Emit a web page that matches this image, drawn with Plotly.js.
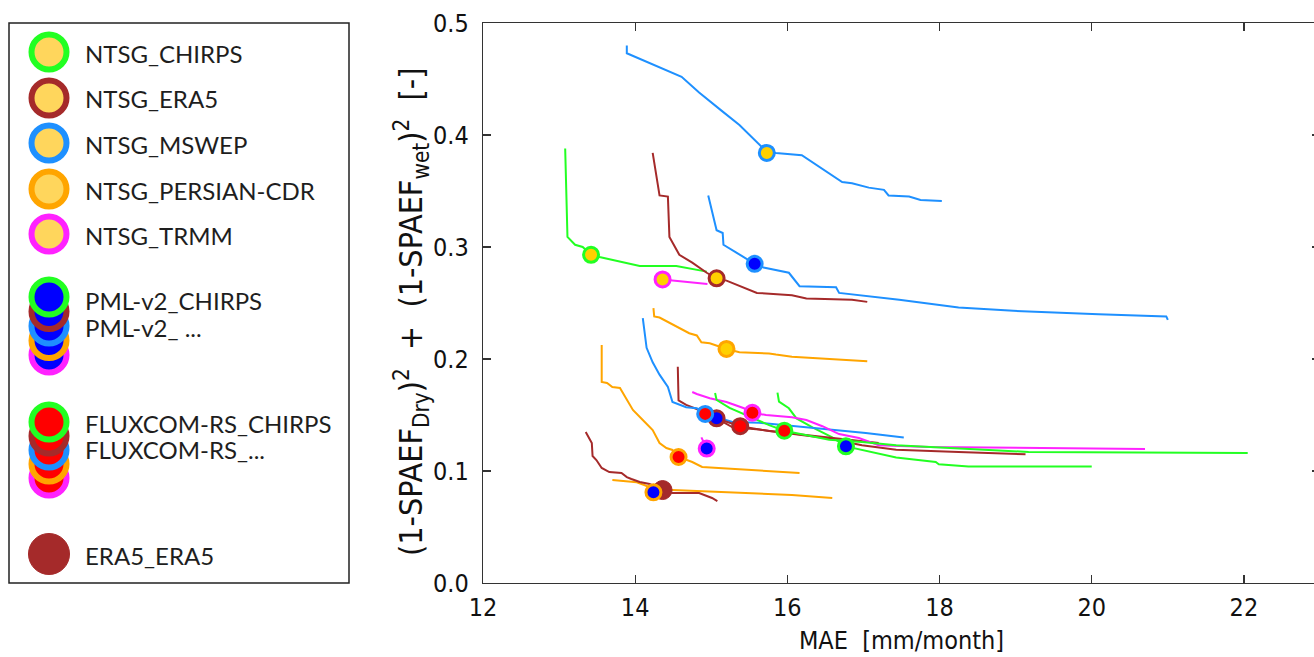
<!DOCTYPE html>
<html>
<head>
<meta charset="utf-8">
<script src="https://cdn.plot.ly/plotly-3.0.1.min.js"></script>
<style>
html,body{margin:0;padding:0;background:#fff;overflow:hidden;}
#chart{width:1320px;height:657px;}
</style>
</head>
<body>
<div id="chart"></div>
<script>
// ---------------- DATA ----------------
// Pareto-front lines: MAE [mm/month] (x) vs (1-SPAEF_Dry)^2 + (1-SPAEF_wet)^2 (y)
const ntsgMswepX = [13.89, 13.89, 14.61, 14.84, 15.13, 15.37, 15.73, 15.85, 16.19, 16.72, 16.85, 17.07, 17.27, 17.33, 17.60, 17.75, 18.03];
const ntsgMswepY = [0.480, 0.473, 0.452, 0.438, 0.422, 0.409, 0.385, 0.384, 0.382, 0.358, 0.357, 0.353, 0.351, 0.346, 0.345, 0.342, 0.341];

const ntsgChirpsX = [13.08, 13.11, 13.21, 13.31, 13.42, 13.53, 14.06, 14.54, 14.94];
const ntsgChirpsY = [0.388, 0.309, 0.302, 0.300, 0.293, 0.291, 0.283, 0.283, 0.278];

const ntsgEra5X = [14.23, 14.32, 14.43, 14.45, 14.58, 14.75, 14.94, 15.07, 15.20, 15.60, 16.06, 16.25, 16.85, 17.05];
const ntsgEra5Y = [0.384, 0.346, 0.345, 0.309, 0.293, 0.286, 0.277, 0.272, 0.270, 0.259, 0.257, 0.254, 0.253, 0.251];

const ntsgTrmmX = [14.36, 14.95];
const ntsgTrmmY = [0.271, 0.267];

const ntsgPersianX = [14.24, 14.25, 14.32, 14.52, 14.62, 14.71, 14.81, 14.87, 14.98, 15.20, 15.37, 15.76, 15.85, 16.06, 17.05];
const ntsgPersianY = [0.2455, 0.238, 0.237, 0.230, 0.226, 0.223, 0.221, 0.215, 0.214, 0.209, 0.206, 0.205, 0.204, 0.202, 0.198];

const pmlMswepX = [14.96, 15.01, 15.07, 15.15, 15.16, 15.33, 15.57, 15.67, 16.02, 16.16, 16.64, 16.68, 17.47, 18.25, 18.97, 20.09, 20.98, 21.00];
const pmlMswepY = [0.346, 0.333, 0.315, 0.3125, 0.302, 0.295, 0.285, 0.282, 0.277, 0.265, 0.264, 0.259, 0.253, 0.246, 0.243, 0.240, 0.238, 0.235];

const pmlEra5X = [14.56, 14.57, 14.67, 14.84, 15.07, 15.28, 15.63, 15.98, 16.55, 16.98, 17.43, 18.25, 19.13];
const pmlEra5Y = [0.193, 0.163, 0.159, 0.1545, 0.147, 0.139, 0.137, 0.134, 0.129, 0.123, 0.119, 0.117, 0.115];

const pmlChirpsX = [15.87, 15.89, 16.02, 16.12, 16.33, 16.59, 16.77, 16.98, 17.43, 17.69, 17.95, 17.99, 18.38, 20.00];
const pmlChirpsY = [0.170, 0.162, 0.156, 0.147, 0.139, 0.130, 0.122, 0.119, 0.112, 0.110, 0.108, 0.106, 0.104, 0.104];

const pmlTrmmX = [14.87, 14.94];
const pmlTrmmY = [0.130, 0.120];

const pmlPersianX = [13.70, 14.02, 14.12, 14.24, 14.49, 15.20, 16.06, 16.59];
const pmlPersianY = [0.092, 0.090, 0.0875, 0.084, 0.083, 0.081, 0.0786, 0.076];

const fluxMswepX = [14.10, 14.12, 14.15, 14.23, 14.32, 14.43, 14.45, 14.49, 14.67, 14.81, 14.92, 15.28, 15.63, 16.55, 17.03, 17.53];
const fluxMswepY = [0.2366, 0.226, 0.210, 0.197, 0.186, 0.175, 0.1705, 0.1616, 0.157, 0.156, 0.151, 0.1437, 0.143, 0.137, 0.134, 0.130];

const fluxEra5X = [15.13, 15.38, 15.76, 16.42, 17.20];
const fluxEra5Y = [0.1455, 0.140, 0.1357, 0.131, 0.125];

const fluxTrmmX = [14.75, 14.81, 14.98, 15.20, 15.43, 15.54, 15.72, 16.06, 16.25, 16.46, 16.68, 16.94, 17.20, 17.86, 20.70];
const fluxTrmmY = [0.1705, 0.1688, 0.165, 0.1616, 0.156, 0.152, 0.150, 0.148, 0.1455, 0.140, 0.133, 0.1295, 0.123, 0.1214, 0.1196];

const fluxChirpsX = [15.05, 15.07, 15.24, 15.46, 15.76, 15.96, 16.55, 16.98, 17.43, 19.17, 22.05];
const fluxChirpsY = [0.1696, 0.1634, 0.1563, 0.150, 0.141, 0.136, 0.128, 0.126, 0.123, 0.117, 0.116];

const fluxPersianX = [13.56, 13.56, 13.63, 13.70, 13.80, 13.89, 13.97, 14.10, 14.23, 14.32, 14.41, 14.49, 14.57, 14.75, 14.88, 16.16];
const fluxPersianY = [0.2125, 0.1795, 0.1786, 0.175, 0.1741, 0.1634, 0.1545, 0.1455, 0.1366, 0.125, 0.1205, 0.1188, 0.1125, 0.108, 0.1036, 0.0982];

const era5Era5X = [13.35, 13.38, 13.43, 13.44, 13.49, 13.56, 13.66, 13.82, 13.89, 13.95, 14.06, 14.19, 14.36, 14.49, 14.84, 15.01, 15.08];
const era5Era5Y = [0.1348, 0.1313, 0.125, 0.1134, 0.1098, 0.1027, 0.0991, 0.0982, 0.0946, 0.0929, 0.0902, 0.0884, 0.083, 0.0804, 0.0804, 0.0759, 0.0732];

// Default-parameter points (markers), drawn in this order
const pointNames = ['ERA5_ERA5',
  'PML-v2_CHIRPS', 'PML-v2_ERA5', 'PML-v2_MSWEP', 'PML-v2_PERSIAN-CDR', 'PML-v2_TRMM',
  'FLUXCOM-RS_CHIRPS', 'FLUXCOM-RS_ERA5', 'FLUXCOM-RS_MSWEP', 'FLUXCOM-RS_PERSIAN-CDR', 'FLUXCOM-RS_TRMM',
  'NTSG_CHIRPS', 'NTSG_ERA5', 'NTSG_MSWEP', 'NTSG_PERSIAN-CDR', 'NTSG_TRMM'];
const pointX = [14.36, 16.77, 15.07, 15.57, 14.24, 14.94, 15.96, 15.38, 14.92, 14.57, 15.54, 13.42, 15.07, 15.73, 15.20, 14.36];
const pointY = [0.083, 0.122, 0.147, 0.285, 0.081, 0.120, 0.136, 0.140, 0.151, 0.1125, 0.152, 0.293, 0.272, 0.384, 0.209, 0.271];

// Legend labels
const legendNtsgLabels = ['NTSG_CHIRPS', 'NTSG_ERA5', 'NTSG_MSWEP', 'NTSG_PERSIAN-CDR', 'NTSG_TRMM'];
const legendPmlLabels = ['PML-v2_CHIRPS', 'PML-v2_ ...'];
const legendFluxLabels = ['FLUXCOM-RS_CHIRPS', 'FLUXCOM-RS_...'];
const legendEra5Label = 'ERA5_ERA5';

const xTickVals = [12, 14, 16, 18, 20, 22];
const yTickVals = [0.0, 0.1, 0.2, 0.3, 0.4, 0.5];
const xTitle = 'MAE\u00a0\u00a0[mm/month]';
const yTitle = '(1-SPAEF<sub>Dry</sub>)<sup>2</sup>\u00a0\u00a0+\u00a0\u00a0(1-SPAEF<sub>wet</sub>)<sup>2</sup>\u00a0\u00a0[-]';

// ---------------- STYLE ----------------
const forcingOrder = ['CHIRPS', 'ERA5', 'MSWEP', 'PERSIAN-CDR', 'TRMM'];
const forcingColor = {
  'CHIRPS': '#22ff22', 'ERA5': '#a52a2a', 'MSWEP': '#1e90ff', 'PERSIAN-CDR': '#ffa500', 'TRMM': '#ff22ff'
};
const modelFill = {'NTSG': '#ffd000', 'PML-v2': '#0000ff', 'FLUXCOM-RS': '#ff0000', 'ERA5': '#a52a2a'};
const legendNtsgFill = '#ffd65c';

const lineSeries = [
  [ntsgMswepX, ntsgMswepY, 'MSWEP'], [ntsgChirpsX, ntsgChirpsY, 'CHIRPS'], [ntsgEra5X, ntsgEra5Y, 'ERA5'],
  [ntsgTrmmX, ntsgTrmmY, 'TRMM'], [ntsgPersianX, ntsgPersianY, 'PERSIAN-CDR'],
  [pmlMswepX, pmlMswepY, 'MSWEP'], [pmlEra5X, pmlEra5Y, 'ERA5'], [pmlChirpsX, pmlChirpsY, 'CHIRPS'],
  [pmlTrmmX, pmlTrmmY, 'TRMM'], [pmlPersianX, pmlPersianY, 'PERSIAN-CDR'],
  [fluxMswepX, fluxMswepY, 'MSWEP'], [fluxEra5X, fluxEra5Y, 'ERA5'], [fluxTrmmX, fluxTrmmY, 'TRMM'],
  [fluxChirpsX, fluxChirpsY, 'CHIRPS'], [fluxPersianX, fluxPersianY, 'PERSIAN-CDR'],
  [era5Era5X, era5Era5Y, 'ERA5']
];

const traces = [];
lineSeries.forEach(s => {
  traces.push({x: s[0], y: s[1], type: 'scatter', mode: 'lines', hoverinfo: 'skip',
    line: {color: forcingColor[s[2]], width: 2}, showlegend: false});
});
pointNames.forEach((n, i) => {
  const idx = n.lastIndexOf('_');
  const model = n.slice(0, idx);
  const forcing = n.slice(idx + 1);
  const isEra5 = model === 'ERA5';
  traces.push({x: [pointX[i]], y: [pointY[i]], type: 'scatter', mode: 'markers', name: n,
    showlegend: false,
    marker: {size: isEra5 ? 19 : 15, color: modelFill[model],
      line: {color: isEra5 ? modelFill[model] : forcingColor[forcing], width: isEra5 ? 1 : 3}}});
});

// ---------------- LAYOUT ----------------
const W = 1320, H = 657, ML = 483, MT = 23, MB = 74;
const PW = W - ML, PH = H - MT - MB;
const px = v => (v - ML) / PW;          // page x (px) -> paper
const py = v => (H - MB - v) / PH;      // page y (px) -> paper

const shapes = [];
const annotations = [];
const legFont = {family: 'Lato, "Open Sans", sans-serif', size: 24, color: '#1e1e1e'};
shapes.push({type: 'rect', xref: 'paper', yref: 'paper', x0: px(9), x1: px(349), y0: py(583), y1: py(23),
  line: {color: '#222', width: 1.5}, fillcolor: 'rgba(0,0,0,0)'});

function legCircle(cy, fill, stroke, d, lw) {
  shapes.push({type: 'circle', xref: 'paper', yref: 'paper', xsizemode: 'pixel', ysizemode: 'pixel',
    xanchor: px(49), yanchor: py(cy), x0: -d / 2, x1: d / 2, y0: -d / 2, y1: d / 2,
    fillcolor: fill, line: {color: stroke, width: lw}});
}
function legText(cy, txt) {
  annotations.push({xref: 'paper', yref: 'paper', x: px(84), y: py(cy), xanchor: 'left', yanchor: 'middle',
    text: txt, showarrow: false, font: legFont, borderpad: 0});
}
const ntsgRows = [52, 98, 143, 189, 234];
legendNtsgLabels.forEach((t, i) => {
  legCircle(ntsgRows[i], legendNtsgFill, forcingColor[forcingOrder[i]], 35, 6);
  legText(ntsgRows[i] + 1, t);
});
// stacked circles: drawn bottom (TRMM) first so CHIRPS is on top
for (let i = forcingOrder.length - 1; i >= 0; i--) {
  legCircle(297 + i * 14.5, modelFill['PML-v2'], forcingColor[forcingOrder[i]], 35, 6);
}
legText(300, legendPmlLabels[0]);
legText(327, legendPmlLabels[1]);
for (let i = forcingOrder.length - 1; i >= 0; i--) {
  legCircle(422 + i * 14, modelFill['FLUXCOM-RS'], forcingColor[forcingOrder[i]], 35, 6);
}
legText(423, legendFluxLabels[0]);
legText(449, legendFluxLabels[1]);
legCircle(554, modelFill['ERA5'], modelFill['ERA5'], 41, 1);
legText(555, legendEra5Label);

const condFam = '"DejaVu Sans Condensed", "DejaVu Sans", sans-serif';
const axFont = {family: condFam, size: 25, color: '#111'};
const yTitleFont = {family: condFam, size: 32, color: '#111'};

// y-axis title (rotated), placed as in the reference
annotations.push({xref: 'paper', yref: 'paper', x: px(411), y: py(557), xanchor: 'center', yanchor: 'bottom',
  textangle: -90, text: yTitle, showarrow: false, font: yTitleFont, borderpad: 0});

const layout = {
  width: W, height: H,
  margin: {l: ML, r: 0, t: MT, b: MB, pad: 0},
  paper_bgcolor: '#fff', plot_bgcolor: '#fff',
  showlegend: false,
  xaxis: {range: [12, 23], tickvals: xTickVals, ticktext: xTickVals.map(String),
    ticks: 'inside', ticklen: 8, tickwidth: 1.2, tickcolor: '#333', mirror: 'ticks',
    showline: true, linecolor: '#333', linewidth: 1.2, showgrid: false, zeroline: false,
    tickfont: axFont, ticklabelstandoff: 2,
    title: {text: xTitle, font: axFont, standoff: 10}},
  yaxis: {range: [0, 0.5], tickvals: yTickVals, ticktext: yTickVals.map(v => v.toFixed(1)),
    ticks: 'inside', ticklen: 8, tickwidth: 1.2, tickcolor: '#333', mirror: 'ticks',
    showline: true, linecolor: '#333', linewidth: 1.2, showgrid: false, zeroline: false,
    tickfont: axFont, ticklabelstandoff: 8},
  shapes: shapes,
  annotations: annotations
};

Plotly.newPlot('chart', traces, layout, {displayModeBar: false, staticPlot: true});
</script>
</body>
</html>
